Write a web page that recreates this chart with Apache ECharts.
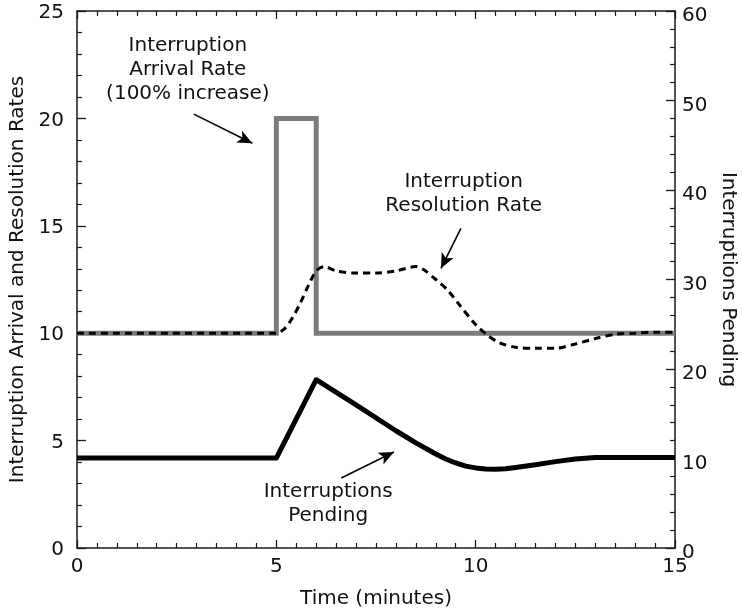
<!DOCTYPE html>
<html>
<head>
<meta charset="utf-8">
<script src="https://cdn.jsdelivr.net/npm/echarts@6/dist/echarts.min.js"></script>
<style>
html,body{margin:0;padding:0;background:#fff;}
#chart{width:742px;height:610px;}
</style>
</head>
<body>
<div id="chart"></div>
<script>
// Time (minutes) / value pairs
var arrivalTime = [0, 5, 5, 6, 6, 15];
var arrivalRate = [10, 10, 20, 20, 10, 10];

var resolutionTime = [0, 5.0, 5.2, 5.4, 5.6, 5.8, 6.0, 6.2, 6.5, 7.0, 7.5, 8.0, 8.5, 8.7, 9.0, 9.3, 9.6, 10.0, 10.3, 10.6, 11.0, 11.5, 12.0, 12.5, 13.0, 13.5, 14.0, 14.5, 15];
var resolutionRate = [10, 10, 10.2, 10.7, 11.4, 12.2, 12.9, 13.1, 12.9, 12.8, 12.8, 12.9, 13.1, 12.95, 12.5, 12.0, 11.3, 10.4, 9.9, 9.55, 9.35, 9.3, 9.3, 9.5, 9.75, 9.95, 10.0, 10.05, 10.05];

var pendingTime = [0, 5.0, 6.0, 7.0, 8.0, 8.5, 9.0, 9.25, 9.5, 9.75, 10.0, 10.25, 10.5, 10.75, 11.0, 11.5, 12.0, 12.5, 13.0, 15];
var pendingCount = [10.05, 10.05, 18.8, 16.0, 13.1, 11.75, 10.5, 9.95, 9.5, 9.15, 8.95, 8.83, 8.8, 8.85, 9.0, 9.3, 9.65, 9.95, 10.12, 10.12];

var xTicks = [0, 5, 10, 15];
var leftTicks = [0, 5, 10, 15, 20, 25];
var rightTicks = [0, 10, 20, 30, 40, 50, 60];

// Annotation texts and their anchor points (data coordinates, left axis)
var annotationTexts = ['Interruption\nArrival Rate\n(100% increase)', 'Interruption\nResolution Rate', 'Interruptions\nPending'];
var annotationAnchors = [[2.78, 22.28], [9.7, 16.5], [6.3, 2.05]];
var arrowStarts = [[2.93, 20.2], [9.63, 14.88], [6.63, 3.26]];
var arrowEnds = [[4.4, 18.84], [9.13, 13.02], [7.95, 4.47]];

function zip(a, b) { return a.map(function (v, i) { return [v, b[i]]; }); }

var FONT = 'DejaVu Sans';
var AX = '#1a1a1a';
var FS = 20;

var chart = echarts.init(document.getElementById('chart'), null, {renderer: 'canvas'});

var baseX = {
  type: 'value', min: xTicks[0], max: xTicks[xTicks.length - 1], interval: 5,
  axisLine: {show: true, onZero: false, lineStyle: {color: AX, width: 1.5}},
  axisTick: {show: true, inside: true, length: 8, lineStyle: {color: AX, width: 1.3}},
  minorTick: {show: true, splitNumber: 10, length: 5, lineStyle: {color: AX, width: 1.2}},
  splitLine: {show: false}, minorSplitLine: {show: false}
};

var option = {
  animation: false,
  backgroundColor: '#fff',
  textStyle: {fontFamily: FONT},
  grid: {left: 77, right: 67, top: 11, bottom: 62, containLabel: false, outerBoundsMode: 'none'},
  xAxis: [
    Object.assign({}, baseX, {
      position: 'bottom',
      name: 'Time (minutes)', nameLocation: 'middle', nameGap: 41,
      nameTextStyle: {fontFamily: FONT, fontSize: FS, color: '#111'},
      axisLabel: {fontFamily: FONT, fontSize: FS, color: '#111', margin: 9}
    }),
    Object.assign({}, baseX, {
      position: 'top',
      axisLabel: {show: false}
    })
  ],
  yAxis: [
    {
      type: 'value', position: 'left', min: leftTicks[0], max: leftTicks[leftTicks.length - 1], interval: 5,
      name: 'Interruption Arrival and Resolution Rates', nameLocation: 'middle', nameGap: 46, nameRotate: 90,
      nameTextStyle: {fontFamily: FONT, fontSize: FS, color: '#111'},
      axisLine: {show: true, onZero: false, lineStyle: {color: AX, width: 1.5}},
      axisTick: {show: true, inside: true, length: 9, lineStyle: {color: AX, width: 1.3}},
      minorTick: {show: true, splitNumber: 5, length: 5, lineStyle: {color: AX, width: 1.2}},
      axisLabel: {fontFamily: FONT, fontSize: FS, color: '#111', margin: 13, verticalAlign: 'top', lineHeight: 4},
      splitLine: {show: false}
    },
    {
      type: 'value', position: 'right', min: rightTicks[0], max: rightTicks[rightTicks.length - 1], interval: 10,
      name: 'Interruptions Pending', nameLocation: 'middle', nameGap: 34, nameRotate: -90,
      nameTextStyle: {fontFamily: FONT, fontSize: FS, color: '#111'},
      axisLine: {show: true, onZero: false, lineStyle: {color: AX, width: 1.5}},
      axisTick: {show: true, inside: true, length: 9, lineStyle: {color: AX, width: 1.3}},
      minorTick: {show: true, splitNumber: 5, length: 5, lineStyle: {color: AX, width: 1.2}},
      axisLabel: {fontFamily: FONT, fontSize: FS, color: '#111', margin: 7, verticalAlign: 'top', lineHeight: 10},
      splitLine: {show: false}
    }
  ],
  series: [
    {
      name: 'Interruption Arrival Rate', type: 'line', xAxisIndex: 0, yAxisIndex: 0,
      data: zip(arrivalTime, arrivalRate), showSymbol: false, z: 2,
      lineStyle: {color: '#7b7b7b', width: 5, join: 'miter'}
    },
    {
      name: 'Interruption Resolution Rate', type: 'line', xAxisIndex: 0, yAxisIndex: 0,
      data: zip(resolutionTime, resolutionRate), showSymbol: false, smooth: 0.3, z: 4,
      lineStyle: {color: '#000', width: 3, type: [7, 5]}
    },
    {
      name: 'Interruptions Pending', type: 'line', xAxisIndex: 0, yAxisIndex: 1,
      data: zip(pendingTime, pendingCount), showSymbol: false, smooth: false, z: 3,
      lineStyle: {color: '#000', width: 5, join: 'round'}
    },
    {
      name: 'annotations', type: 'line', xAxisIndex: 0, yAxisIndex: 0, data: [], z: 5,
      markLine: {
        silent: true, animation: false,
        symbol: ['none', 'arrow'], symbolSize: [10, 15],
        lineStyle: {color: '#000', width: 1.6, type: 'solid'},
        label: {show: false},
        data: arrowStarts.map(function (s, i) {
          return [{coord: s}, {coord: arrowEnds[i]}];
        })
      },
      markPoint: {
        silent: true, symbol: 'circle', symbolSize: 0,
        label: {show: true, position: 'inside', fontFamily: FONT, fontSize: FS, color: '#111', lineHeight: 24, align: 'center', verticalAlign: 'middle'},
        data: annotationAnchors.map(function (a, i) {
          return {coord: a, value: annotationTexts[i], label: {formatter: annotationTexts[i]}};
        })
      }
    }
  ]
};
chart.setOption(option);
</script>
</body>
</html>
